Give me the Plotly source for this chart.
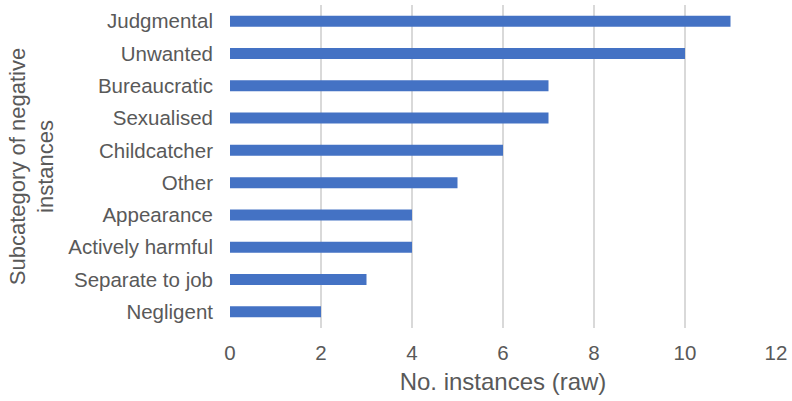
import plotly.graph_objects as go

categories = ["Judgmental", "Unwanted", "Bureaucratic", "Sexualised", "Childcatcher",
              "Other", "Appearance", "Actively harmful", "Separate to job", "Negligent"]
values = [11, 10, 7, 7, 6, 5, 4, 4, 3, 2]

fig = go.Figure(go.Bar(
    x=values, y=categories, orientation="h",
    marker=dict(color="#4472C4", line=dict(width=0)),
    width=0.34,
))

font_color = "#595959"
fig.update_layout(
    width=792, height=401,
    margin=dict(l=230, r=16, t=5, b=73),
    paper_bgcolor="white", plot_bgcolor="white",
    font=dict(family="Liberation Sans, Arial, sans-serif", color=font_color, size=20.5),
    showlegend=False,
)
fig.update_xaxes(
    range=[0, 12], dtick=2, showgrid=True, gridcolor="#D9D9D9", gridwidth=1.5,
    zeroline=False, showline=False, ticks="", ticklabelstandoff=10,
    tickfont=dict(size=20.5, color=font_color),
    title=dict(text="No. instances (raw)", font=dict(size=24, color=font_color), standoff=10),
)
fig.update_yaxes(
    autorange="reversed", showgrid=False, zeroline=False, showline=False,
    ticks="", ticklabelstandoff=16,
    tickfont=dict(size=20.5, color=font_color),
    title=dict(text="Subcategory of negative<br>instances", font=dict(size=22, color=font_color), standoff=8),
)
fig.write_html("out.html")
